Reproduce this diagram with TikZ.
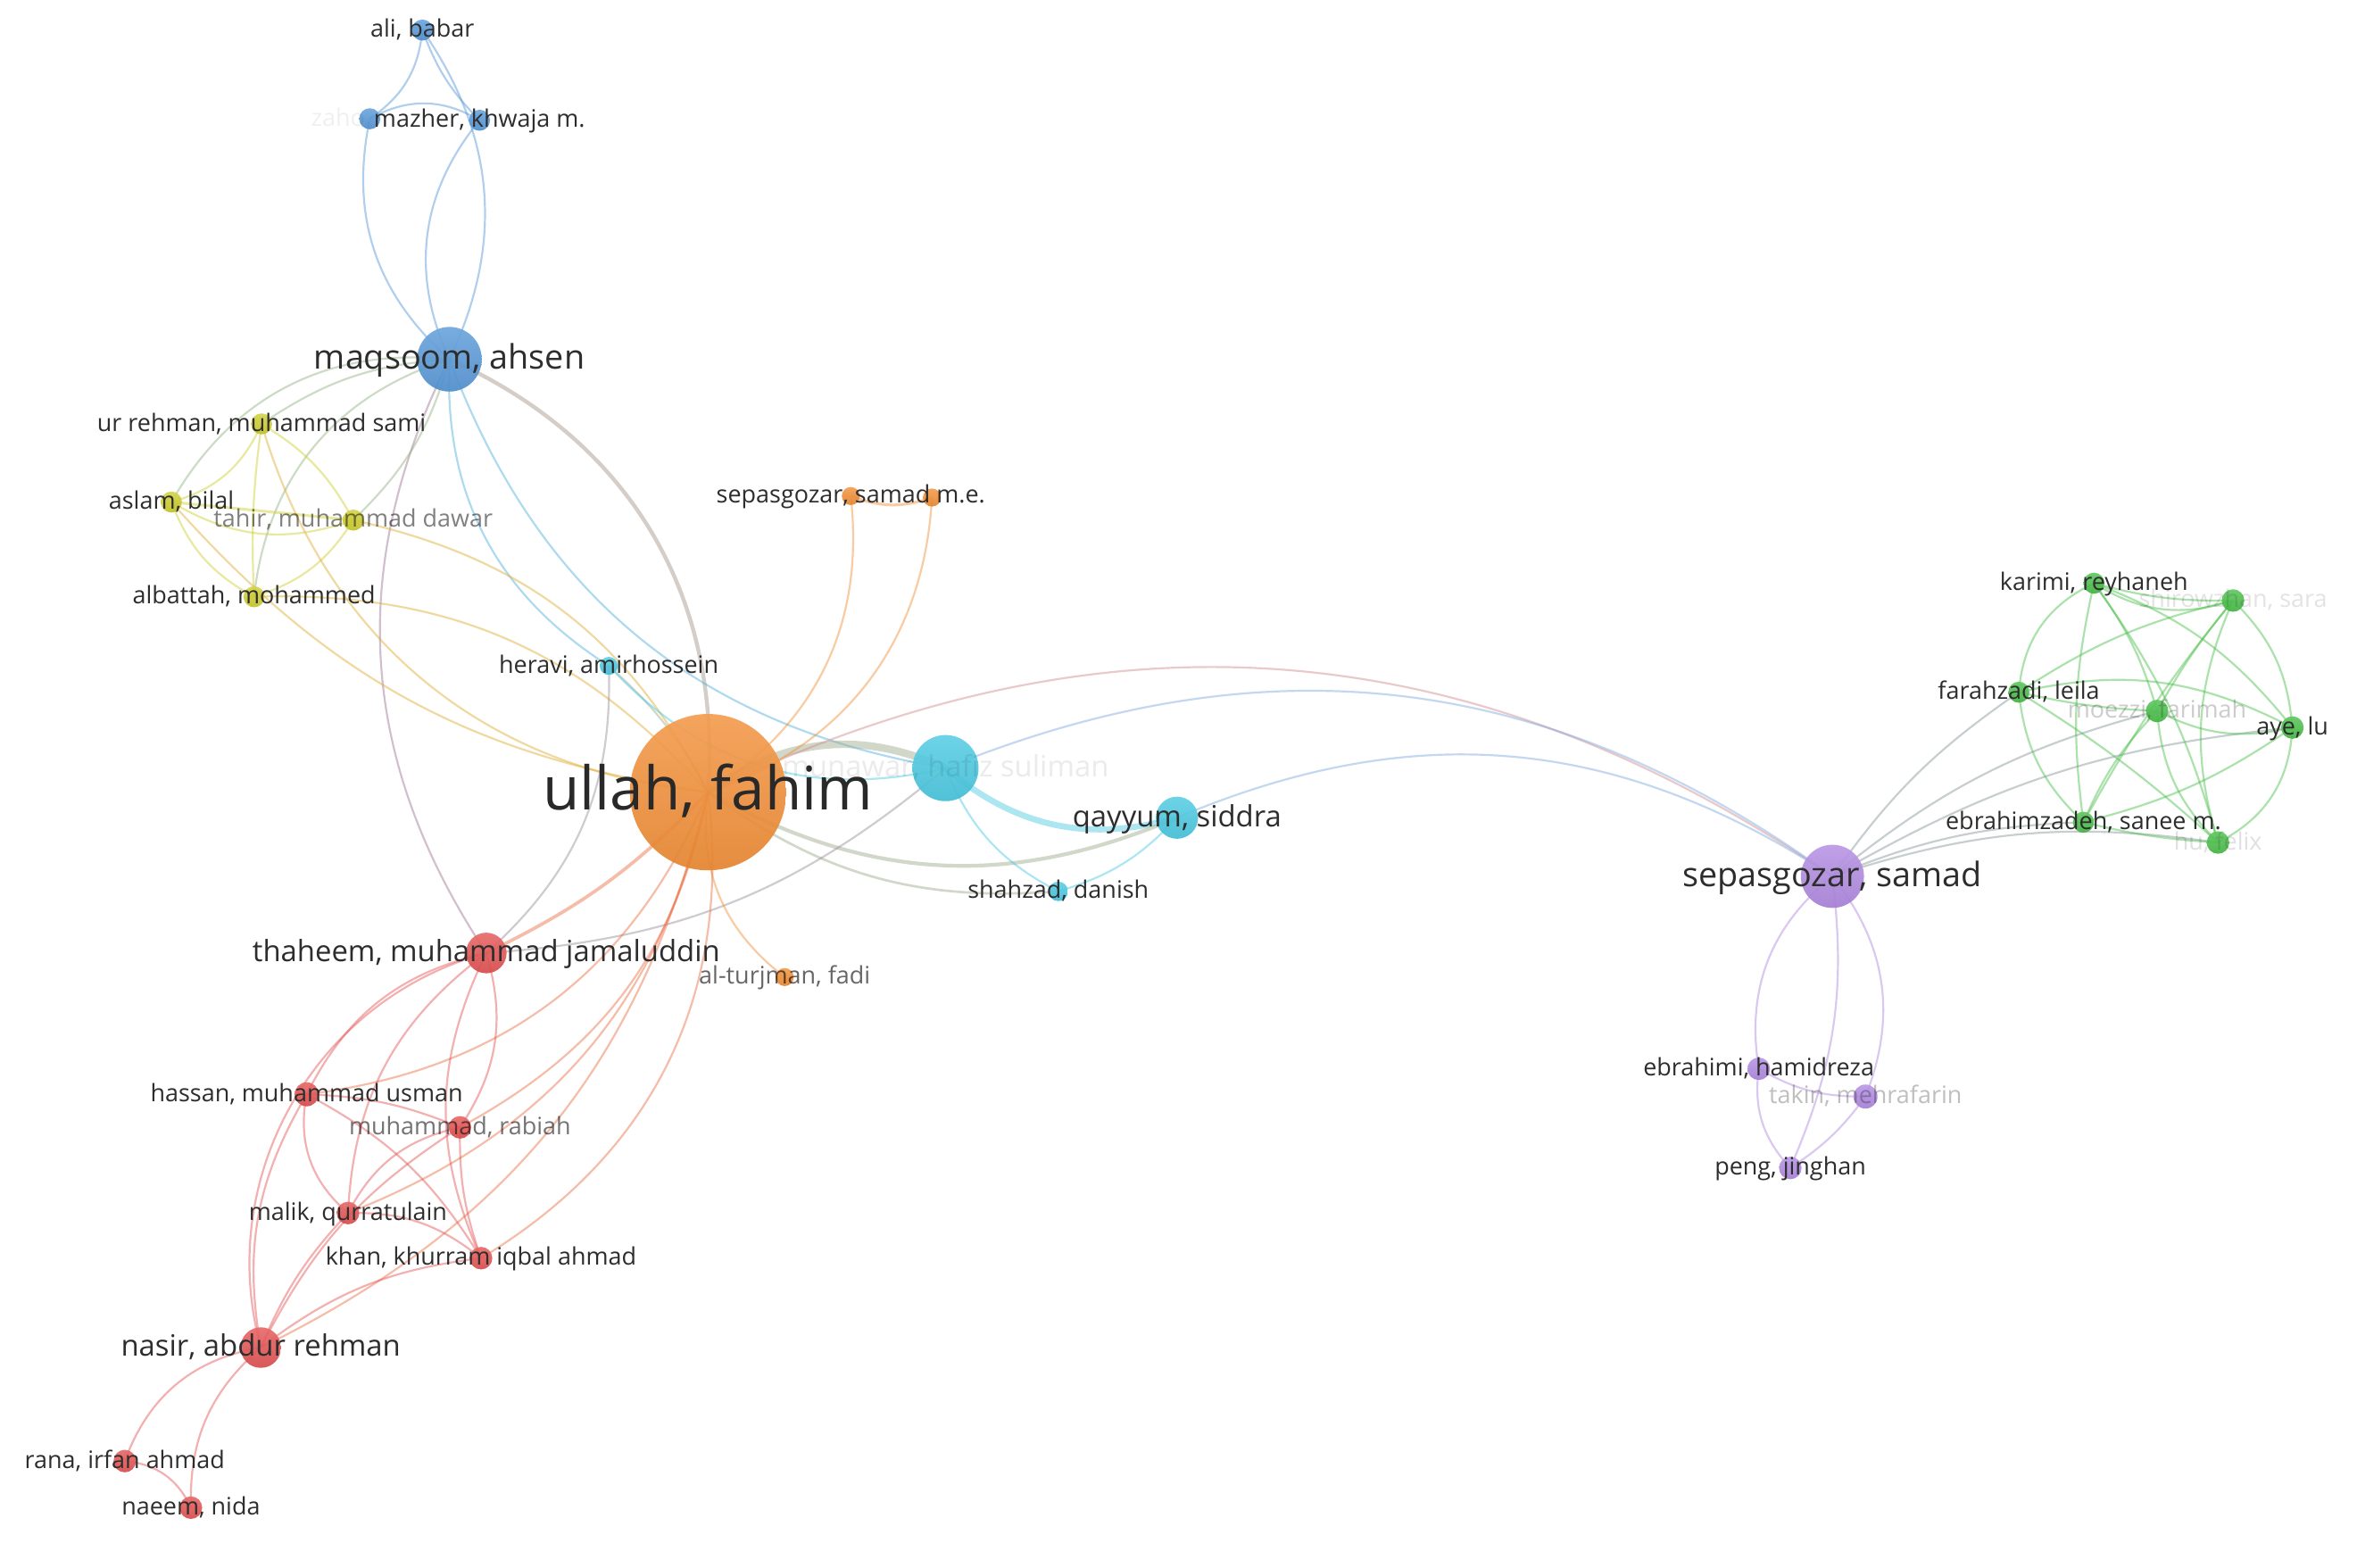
\documentclass[tikz,border=0pt]{standalone}
\usepackage{fontspec}
\setmainfont{Open Sans}
\definecolor{cblue}{RGB}{84,150,215}
\definecolor{cyel}{RGB}{205,205,45}
\definecolor{ccyan}{RGB}{70,200,225}
\definecolor{corg}{RGB}{242,140,50}
\definecolor{cred}{RGB}{228,80,80}
\definecolor{cpur}{RGB}{175,135,225}
\definecolor{cgrn}{RGB}{70,190,70}
\definecolor{ctxt}{RGB}{45,45,45}
\pgfdeclarelayer{bg}
\pgfdeclarelayer{edges}
\pgfsetlayers{bg,edges,main}
\tikzset{
  au/.style={circle, inner sep=0pt, draw=none, top color=#1!85!white, bottom color=#1!94!black, fill opacity=.92},
  ed/.style={line width=1.3pt, draw opacity=.45},
  lbS/.style={inner sep=0pt, text=ctxt, font=\fontsize{16}{18}\selectfont, text height=12pt, text depth=2.4pt},
  lbM/.style={inner sep=0pt, text=ctxt, font=\fontsize{19.5}{22}\selectfont, text height=14.6pt, text depth=2.9pt},
  lbL/.style={inner sep=0pt, text=ctxt, font=\fontsize{22.4}{25}\selectfont, text height=16.8pt, text depth=3.4pt},
  lbH/.style={inner sep=0pt, text=ctxt!90!black, font=\fontsize{40}{44}\selectfont, text height=30pt, text depth=6pt},
  faint/.style={text=black!#1}
}
\newcommand\E[5][1.3]{\draw[ed, line width=#1pt, draw=#4] (#2.center) to[bend right=#5] (#3.center);}
\begin{document}
\begin{tikzpicture}[x=1pt,y=-1pt]
\begin{pgfonlayer}{bg}
\fill[white] (0,0) rectangle (1568,1043);
\end{pgfonlayer}
\useasboundingbox (0,0) rectangle (1568,1043);
% ---------- nodes ----------
\node[au=cblue, minimum size=14pt] (ali) at (281,20) {};
\node[au=cblue, minimum size=14pt] (zaho) at (246,79) {};
\node[au=cblue, minimum size=14pt] (mazher) at (319,80) {};
\node[au=cblue, minimum size=43pt] (maqsoom) at (299,239) {};
\node[au=cyel, minimum size=14pt] (urrehman) at (174,282) {};
\node[au=cyel, minimum size=14pt] (aslam) at (114,334) {};
\node[au=cyel, minimum size=14pt] (tahir) at (235,346) {};
\node[au=cyel, minimum size=14pt] (albattah) at (169,397) {};
\node[au=ccyan, minimum size=12pt] (heravi) at (405,443) {};
\node[au=corg, minimum size=12pt] (sepme1) at (566,330) {};
\node[au=corg, minimum size=12pt] (sepme2) at (620,331) {};
\node[au=corg, minimum size=104pt] (ullah) at (471,527) {};
\node[au=ccyan, minimum size=44pt] (munawar) at (629,511) {};
\node[au=ccyan, minimum size=28pt] (qayyum) at (783,544) {};
\node[au=ccyan, minimum size=13pt] (shahzad) at (704,593) {};
\node[au=corg, minimum size=12pt] (alturjman) at (522,650) {};
\node[au=cred, minimum size=27pt] (thaheem) at (323.5,634) {};
\node[au=cred, minimum size=16pt] (hassan) at (204,728) {};
\node[au=cred, minimum size=15pt] (rabiah) at (306,750) {};
\node[au=cred, minimum size=15pt] (malik) at (231.5,807) {};
\node[au=cred, minimum size=15pt] (khan) at (320,837) {};
\node[au=cred, minimum size=27pt] (nasir) at (173.5,896.5) {};
\node[au=cred, minimum size=15pt] (rana) at (83,972) {};
\node[au=cred, minimum size=15pt] (naeem) at (127,1003) {};
\node[au=cpur, minimum size=42pt] (samad) at (1219,583) {};
\node[au=cpur, minimum size=15pt] (ebrahimi) at (1170,711) {};
\node[au=cpur, minimum size=16pt] (takin) at (1241,729.5) {};
\node[au=cpur, minimum size=15pt] (peng) at (1191,777) {};
\node[au=cgrn, minimum size=14pt] (karimi) at (1393,388) {};
\node[au=cgrn, minimum size=15pt] (shirowzhan) at (1485.5,399.5) {};
\node[au=cgrn, minimum size=14pt] (farahzadi) at (1343,460.5) {};
\node[au=cgrn, minimum size=15pt] (moezzi) at (1435,473) {};
\node[au=cgrn, minimum size=15pt] (aye) at (1525,484) {};
\node[au=cgrn, minimum size=14pt] (ebrahimzadeh) at (1386,547) {};
\node[au=cgrn, minimum size=15pt] (hu) at (1475.5,560.5) {};
% ---------- edges ----------
\begin{pgfonlayer}{edges}
% blue
\E{ali}{zaho}{cblue}{-25}
\E{ali}{mazher}{cblue}{12}
\E{ali}{maqsoom}{cblue}{-30}
\E{zaho}{mazher}{cblue}{-30}
\E{zaho}{maqsoom}{cblue}{30}
\E{mazher}{maqsoom}{cblue}{32}
\E[2.6]{maqsoom}{ullah}{cblue!50!corg}{-35}
\E{maqsoom}{thaheem}{cblue!50!cred}{30}
\E{maqsoom}{heravi}{cblue!50!ccyan}{30}
\E{maqsoom}{munawar}{cblue!50!ccyan}{30}
\E{maqsoom}{urrehman}{cblue!50!cyel}{15}
\E{maqsoom}{aslam}{cblue!50!cyel}{33}
\E{maqsoom}{albattah}{cblue!50!cyel}{33}
\E{maqsoom}{tahir}{cblue!50!cyel}{-15}
% yellow
\E{urrehman}{aslam}{cyel}{-25}
\E{urrehman}{tahir}{cyel}{-15}
\E{urrehman}{albattah}{cyel}{5}
\E[1.8]{aslam}{tahir}{cyel}{0}
\E{aslam}{tahir}{cyel}{25}
\E{aslam}{albattah}{cyel}{20}
\E{tahir}{albattah}{cyel}{-20}
\E{urrehman}{ullah}{cyel!50!corg}{34}
\E{aslam}{ullah}{cyel!50!corg}{20}
\E{tahir}{ullah}{cyel!50!corg}{-25}
\E{albattah}{ullah}{cyel!50!corg}{-25}
% cyan
\E{heravi}{ullah}{ccyan!50!corg}{-10}
\E{heravi}{thaheem}{ccyan!50!cred}{-25}
\E{heravi}{munawar}{ccyan}{30}
\E[5]{ullah}{munawar}{ccyan!50!corg}{-30}
\E[4]{munawar}{qayyum}{ccyan}{28}
\E[2.5]{ullah}{qayyum}{ccyan!50!corg}{26}
\E[1.6]{ullah}{shahzad}{ccyan!50!corg}{20}
\E{munawar}{shahzad}{ccyan}{20}
\E{qayyum}{shahzad}{ccyan}{-15}
\E{munawar}{thaheem}{ccyan!50!cred}{-18}
\E{ullah}{samad}{corg!50!cpur}{-30}
\E{munawar}{samad}{ccyan!50!cpur}{-29}
\E{qayyum}{samad}{ccyan!50!cpur}{-28}
% orange
\E{ullah}{sepme1}{corg}{32}
\E{ullah}{sepme2}{corg}{34}
\E[1.8]{sepme1}{sepme2}{corg}{20}
\E{ullah}{alturjman}{corg}{30}
\E[2.2]{ullah}{thaheem}{corg!50!cred}{-10}
\E{ullah}{hassan}{corg!50!cred}{-30}
\E{ullah}{rabiah}{corg!50!cred}{-25}
\E{ullah}{malik}{corg!50!cred}{-28}
\E{ullah}{khan}{corg!50!cred}{-33}
\E{ullah}{nasir}{corg!50!cred}{-25}
% red
\E{thaheem}{nasir}{cred}{45}
\E{thaheem}{hassan}{cred}{25}
\E{thaheem}{malik}{cred}{25}
\E{thaheem}{rabiah}{cred}{-25}
\E{thaheem}{khan}{cred}{25}
\E{hassan}{rabiah}{cred}{-10}
\E{hassan}{malik}{cred}{30}
\E{hassan}{khan}{cred}{-15}
\E{hassan}{nasir}{cred}{20}
\E{rabiah}{malik}{cred}{25}
\E{rabiah}{khan}{cred}{10}
\E{rabiah}{nasir}{cred}{15}
\E{malik}{khan}{cred}{-20}
\E{malik}{nasir}{cred}{10}
\E{khan}{nasir}{cred}{15}
\E{nasir}{rana}{cred}{30}
\E{nasir}{naeem}{cred}{25}
\E{rana}{naeem}{cred}{-30}
% purple
\E{samad}{ebrahimi}{cpur}{30}
\E{samad}{peng}{cpur}{-15}
\E{samad}{takin}{cpur}{-30}
\E{ebrahimi}{peng}{cpur}{25}
\E{ebrahimi}{takin}{cpur}{15}
\E{takin}{peng}{cpur}{-10}
\E{samad}{farahzadi}{cpur!60!cgrn!70!gray}{-10}
\E{samad}{moezzi}{cpur!60!cgrn!70!gray}{-12}
\E{samad}{aye}{cpur!60!cgrn!70!gray}{-12}
\E{samad}{ebrahimzadeh}{cpur!60!cgrn!70!gray}{-10}
\E{samad}{hu}{cpur!60!cgrn!70!gray}{-13}
% green
\E{karimi}{shirowzhan}{cgrn}{8}
\E{karimi}{shirowzhan}{cgrn}{25}
\E{karimi}{farahzadi}{cgrn}{30}
\E{karimi}{moezzi}{cgrn}{-10}
\E{karimi}{aye}{cgrn}{-15}
\E{karimi}{ebrahimzadeh}{cgrn}{10}
\E{karimi}{hu}{cgrn}{-10}
\E{shirowzhan}{farahzadi}{cgrn}{10}
\E{shirowzhan}{moezzi}{cgrn}{5}
\E{shirowzhan}{aye}{cgrn}{-20}
\E{shirowzhan}{ebrahimzadeh}{cgrn}{5}
\E{shirowzhan}{hu}{cgrn}{20}
\E{farahzadi}{moezzi}{cgrn}{5}
\E{farahzadi}{aye}{cgrn}{-20}
\E{farahzadi}{ebrahimzadeh}{cgrn}{20}
\E{farahzadi}{hu}{cgrn}{-5}
\E{moezzi}{aye}{cgrn}{20}
\E{moezzi}{ebrahimzadeh}{cgrn}{10}
\E{moezzi}{hu}{cgrn}{20}
\E{aye}{ebrahimzadeh}{cgrn}{-10}
\E{aye}{hu}{cgrn}{-30}
\E{ebrahimzadeh}{hu}{cgrn}{5}
\end{pgfonlayer}
% ---------- labels ----------
\begin{scope}[blend mode=multiply]
\node[lbS, faint=6, anchor=east] (zaho-l) at (243,79) {zaho};
\node[lbS, faint=50] (tahir-l) at (tahir) {tahir, muhammad dawar};
\node[lbM, faint=8] (munawar-l) at (munawar) {munawar, hafiz suliman};
\node[lbS, faint=60] (alturjman-l) at (alturjman) {al-turjman, fadi};
\node[lbS, faint=55] (rabiah-l) at (rabiah) {muhammad, rabiah};
\node[lbS, faint=25] (takin-l) at (takin) {takin, mehrafarin};
\node[lbS, faint=11] (shirowzhan-l) at (shirowzhan) {shirowzhan, sara};
\node[lbS, faint=20] (moezzi-l) at (moezzi) {moezzi, farimah};
\node[lbS, faint=12] (hu-l) at (hu) {hu, felix};
\end{scope}
\node[lbS] (ali-l) at (ali) {ali, babar};
\node[lbS] (mazher-l) at (mazher) {mazher, khwaja m.};
\node[lbL] (maqsoom-l) at (maqsoom) {maqsoom, ahsen};
\node[lbS] (urrehman-l) at (urrehman) {ur rehman, muhammad sami};
\node[lbS] (aslam-l) at (aslam) {aslam, bilal};
\node[lbS] (albattah-l) at (albattah) {albattah, mohammed};
\node[lbS] (heravi-l) at (heravi) {heravi, amirhossein};
\node[lbS] (sepme1-l) at (sepme1) {sepasgozar, samad m.e.};
\node[lbH] (ullah-l) at (ullah) {ullah, fahim};
\node[lbM] (qayyum-l) at (qayyum) {qayyum, siddra};
\node[lbS] (shahzad-l) at (shahzad) {shahzad, danish};
\node[lbM] (thaheem-l) at (thaheem) {thaheem, muhammad jamaluddin};
\node[lbS] (hassan-l) at (hassan) {hassan, muhammad usman};
\node[lbS] (malik-l) at (malik) {malik, qurratulain};
\node[lbS] (khan-l) at (khan) {khan, khurram iqbal ahmad};
\node[lbM] (nasir-l) at (nasir) {nasir, abdur rehman};
\node[lbS] (rana-l) at (rana) {rana, irfan ahmad};
\node[lbS] (naeem-l) at (naeem) {naeem, nida};
\node[lbL] (samad-l) at (samad) {sepasgozar, samad};
\node[lbS] (ebrahimi-l) at (ebrahimi) {ebrahimi, hamidreza};
\node[lbS] (peng-l) at (peng) {peng, jinghan};
\node[lbS] (karimi-l) at (karimi) {karimi, reyhaneh};
\node[lbS] (farahzadi-l) at (farahzadi) {farahzadi, leila};
\node[lbS] (aye-l) at (aye) {aye, lu};
\node[lbS] (ebrahimzadeh-l) at (ebrahimzadeh) {ebrahimzadeh, sanee m.};
\end{tikzpicture}
\end{document}
